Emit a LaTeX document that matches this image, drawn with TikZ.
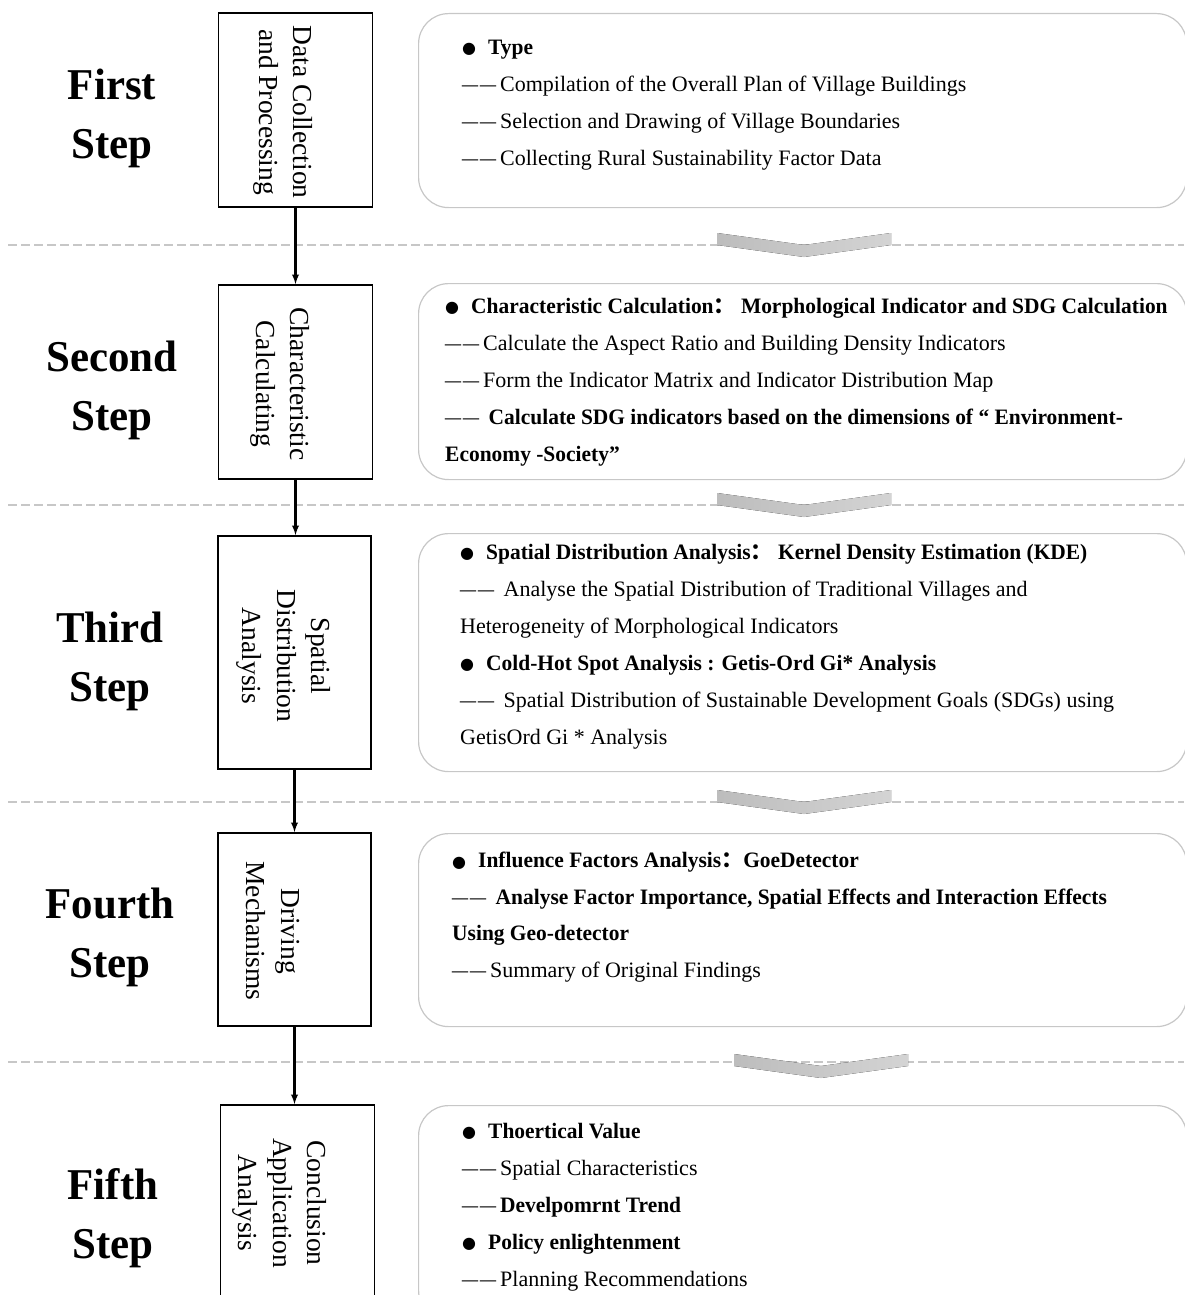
\documentclass[tikz,border=0pt]{standalone}
\usepackage{graphicx}
\usepackage{fontspec}
\setmainfont{Liberation Serif}[BoldFeatures={FakeStretch=0.975}]
\newfontfamily\symfont{DejaVu Sans}
\newfontfamily\cjkfont{Noto Sans CJK SC}
\usetikzlibrary{arrows,positioning}

\newcommand{\bul}{\makebox[26pt][l]{\raisebox{0.5pt}{\symfont\fontsize{16}{16}\selectfont ●}}}
\newcommand{\dsh}{\makebox[18pt][l]{\scalebox{1.45}[1]{–}}\makebox[20pt][l]{\scalebox{1.45}[1]{–}}}
\newcommand{\fwc}{{\cjkfont ：}}

\begin{document}
\begin{tikzpicture}[x=1pt,y=-1pt,>=latex,
  stepbox/.style={draw,line width=1.8pt,inner sep=0pt},
  steptext/.style={rotate=-90,inner sep=0pt,align=center,
                   font=\fontsize{27.5}{34.5}\selectfont},
  steplabel/.style={align=center,font=\fontsize{44}{59}\selectfont\bfseries},
  infobox/.style={draw=black!22,line width=1.2pt,rounded corners=30pt,
                  inner sep=0pt,anchor=north west,minimum width=768pt},
  infotext/.style={align=left,anchor=north west,inner sep=0pt,
                   font=\fontsize{22}{37}\selectfont},
  flowarrow/.style={->,draw=black,line width=2.2pt},
  divider/.style={draw=black!22,line width=2pt,dash pattern=on 9pt off 4pt},
  chevron/.style={left color=black!26,right color=black!17}]
  \useasboundingbox (0,0) rectangle (1184,1295);

  \foreach \dy in {245,505,802,1062}
    \draw[divider] (8,\dy) -- (1184,\dy);
  \foreach \cx/\cy in {804/245,804/505,804/802,821/1066}
    \fill[chevron] (\cx-87,\cy-12) -- (\cx,\cy) -- (\cx+87,\cy-12)
                -- (\cx+87,\cy) -- (\cx,\cy+12) -- (\cx-87,\cy) -- cycle;

  \path (295.5,110)   node[stepbox,minimum width=154pt,minimum height=194pt] (collect) {}
        (295.5,382)   node[stepbox,minimum width=154pt,minimum height=194pt] (calc)    {}
        (294.5,652.5) node[stepbox,minimum width=153pt,minimum height=233pt] (spatial) {}
        (294.5,929.5) node[stepbox,minimum width=153pt,minimum height=193pt] (drive)   {}
        (297.5,1203)  node[stepbox,minimum width=154pt,minimum height=196pt] (concl)   {};

  \node[steptext] (collecttext) at (283,112)  {Data Collection\\and Processing};
  \node[steptext] (calctext)    at (280,384)  {Characteristic\\Calculating};
  \node[steptext] (spatialtext) at (284,656)  {Spatial\\Distribution\\Analysis};
  \node[steptext] (drivetext)   at (273,931)  {Driving\\Mechanisms};
  \node[steptext] (concltext)   at (280,1203) {Conclusion\\Application\\Analysis};

  \node[steplabel] (first)  at (112,118)  {First\\Step};
  \node[steplabel] (second) at (112,390)  {Second\\Step};
  \node[steplabel] (third)  at (110,661)  {Third\\Step};
  \node[steplabel] (fourth) at (110,937)  {Fourth\\Step};
  \node[steplabel] (fifth)  at (113,1218) {Fifth\\Step};

  \node[infobox,minimum height=194pt] (type)   at (418,13)   {};
  \node[infobox,minimum height=196pt] (morph)  at (418,283)  {};
  \node[infobox,minimum height=238pt] (kde)    at (418,533)  {};
  \node[infobox,minimum height=193pt] (geo)    at (418,833)  {};
  \node[infobox,minimum height=215pt] (policy) at (418,1105) {};

  \node[infotext] (typetext) at (462,28) {\strut\bul\textbf{Type}\\
    \dsh Compilation of the Overall Plan of Village Buildings\\
    \dsh Selection and Drawing of Village Boundaries\\
    \dsh Collecting Rural Sustainability Factor Data};
  \node[infotext] (morphtext) at (445,287) {\strut\bul\textbf{Characteristic Calculation\fwc{} Morphological Indicator and SDG Calculation}\\
    \dsh Calculate the Aspect Ratio and Building Density Indicators\\
    \dsh Form the Indicator Matrix and Indicator Distribution Map\\
    \dsh{} \textbf{Calculate SDG indicators based on the dimensions of “ Environment-}\\
    \textbf{Economy -Society"}};
  \node[infotext] (kdetext) at (460,533) {\strut\bul\textbf{Spatial Distribution Analysis\fwc{} Kernel Density Estimation (KDE)}\\
    \dsh{} Analyse the Spatial Distribution of Traditional Villages and\\
    Heterogeneity of Morphological Indicators\\
    \bul\textbf{Cold-Hot Spot Analysis : Getis-Ord Gi* Analysis}\\
    \dsh{} Spatial Distribution of Sustainable Development Goals (SDGs) using\\
    GetisOrd Gi * Analysis};
  \node[infotext,font=\fontsize{22}{36.5}\selectfont] (geotext) at (452,842) {\strut\bul\textbf{Influence Factors Analysis\fwc GoeDetector}\\
    \dsh{} \textbf{Analyse Factor Importance, Spatial Effects and Interaction Effects}\\
    \textbf{Using Geo-detector}\\
    \dsh Summary of Original Findings};
  \node[infotext] (policytext) at (462,1112) {\strut\bul\textbf{Thoertical Value}\\
    \dsh Spatial Characteristics\\
    \dsh\textbf{Develpomrnt Trend}\\
    \bul\textbf{Policy enlightenment}\\
    \dsh Planning Recommendations};

  \draw[flowarrow] (collect.south) -- (calc.north);
  \draw[flowarrow] (calc.south)    -- (calc.south |- spatial.north);
  \draw[flowarrow] (spatial.south) -- (drive.north);
  \draw[flowarrow] (drive.south)   -- (drive.south |- concl.north);
\end{tikzpicture}
\end{document}
